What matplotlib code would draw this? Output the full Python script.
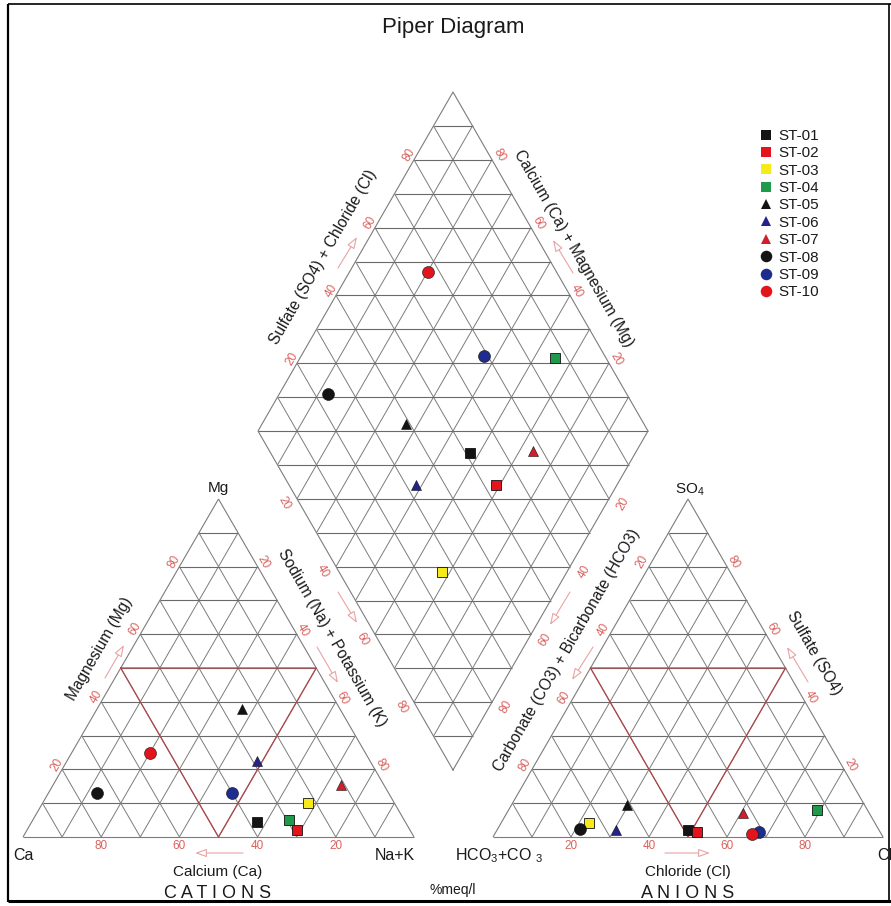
import numpy as np
import matplotlib
matplotlib.use("Agg")
import matplotlib.pyplot as plt
from matplotlib.lines import Line2D

plt.rcParams['font.family'] = ['Liberation Sans', 'DejaVu Sans']
plt.rcParams['mathtext.fontset'] = 'custom'
plt.rcParams['mathtext.rm'] = 'Liberation Sans'
plt.rcParams['mathtext.it'] = 'Liberation Sans'

# ---- sample data (% meq/l) ----
stations = ['ST-01', 'ST-02', 'ST-03', 'ST-04', 'ST-05',
            'ST-06', 'ST-07', 'ST-08', 'ST-09', 'ST-10']
ca = [38, 29, 22, 29.5, 25, 29, 11, 74.5, 40, 55]
mg = [4.5, 2, 10, 5, 38, 22.5, 15.5, 13, 13, 25]
na_k = [57.5, 69, 68, 65.5, 37, 48.5, 73.5, 12.5, 47, 20]
cl = [49, 51.5, 22.5, 79, 29.5, 30.5, 60.5, 21, 67.5, 66]
so4 = [2, 1.5, 4, 8, 9.5, 2, 7, 2.5, 1.5, 1]
hco3_co3 = [49, 47, 73.5, 13, 61, 67.5, 32.5, 76.5, 31, 33]

markers = ['s', 's', 's', 's', '^', '^', '^', 'o', 'o', 'o']
colors = ['#141414', '#e3141c', '#f7ea1a', '#1f9a4a', '#141414',
          '#23238a', '#cf1f2c', '#141414', '#1e2b8f', '#e3141c']
tick_values = [20, 40, 60, 80]

# ---- layout (pixel units) ----
W, H = 891, 906
BASE_Y = 837
TRI_H = 338
CAT_X0, CAT_SIDE = 23, 391
AN_X0, AN_SIDE = 493, 390
DIA_BX, DIA_BY, DIA_HW, DIA_H = 453, 770, 195, 339

GRID = '#7c7c7c'
HGRID = '#6a6a6a'
TICK = '#d9625e'
ARROW = '#e8a4a4'
FACIES = '#b0474a'

fig = plt.figure(figsize=(W / 100, H / 100), dpi=100)
ax = fig.add_axes([0, 0, 1, 1])
ax.set_xlim(0, W)
ax.set_ylim(H, 0)
ax.axis('off')


def tri_pt(x0, side, right, top):
    right = np.asarray(right, float)
    top = np.asarray(top, float)
    return x0 + side * (right + top / 2.0), BASE_Y - TRI_H * top


def dia_pt(a, c):
    a = np.asarray(a, float)
    c = np.asarray(c, float)
    return DIA_BX + DIA_HW * (c - a), DIA_BY - DIA_H * (a + c)


def seg(p, q, **kw):
    ax.plot([p[0], q[0]], [p[1], q[1]], solid_capstyle='butt', **kw)


def draw_triangle(x0, side):
    P = lambda r, t: tri_pt(x0, side, r, t)
    for k in range(1, 10):
        f = k / 10
        seg(P(0, f), P(1 - f, f), color=HGRID, lw=0.8)
        seg(P(f, 0), P(f, 1 - f), color=GRID, lw=0.7)
        seg(P(1 - f, 0), P(0, 1 - f), color=GRID, lw=0.7)
    for p, q in [(P(0, 0), P(1, 0)), (P(1, 0), P(0, 1)), (P(0, 1), P(0, 0))]:
        seg(p, q, color=GRID, lw=0.8)
    # central facies triangle
    tri = [P(0, 0.5), P(0.5, 0.5), P(0.5, 0), P(0, 0.5)]
    ax.plot([p[0] for p in tri], [p[1] for p in tri], color=FACIES, lw=0.9)


def draw_diamond():
    for k in range(1, 10):
        f = k / 10
        seg(dia_pt(f, 0), dia_pt(f, 1), color=GRID, lw=0.7)
        seg(dia_pt(0, f), dia_pt(1, f), color=GRID, lw=0.7)
    for k in range(1, 20):
        s = k / 10
        if s <= 1:
            p, q = dia_pt(s, 0), dia_pt(0, s)
        else:
            p, q = dia_pt(1, s - 1), dia_pt(s - 1, 1)
        seg(p, q, color=HGRID, lw=0.8)
    outline = [dia_pt(0, 0), dia_pt(1, 0), dia_pt(1, 1), dia_pt(0, 1), dia_pt(0, 0)]
    ax.plot([p[0] for p in outline], [p[1] for p in outline], color=GRID, lw=0.8)


draw_triangle(CAT_X0, CAT_SIDE)
draw_triangle(AN_X0, AN_SIDE)
draw_diamond()


# ---- red tick labels ----
def tick(xy, off, rot, v):
    ax.text(xy[0] + off[0], xy[1] + off[1], str(v), color=TICK, fontsize=8.5,
            rotation=rot, ha='center', va='center', rotation_mode='anchor')


for v in tick_values:
    f = v / 100
    # cation triangle
    tick(tri_pt(CAT_X0, CAT_SIDE, 1 - f, 0), (0, 9), 0, v)
    tick(tri_pt(CAT_X0, CAT_SIDE, 0, f), (-5, -5), 60, v)
    tick(tri_pt(CAT_X0, CAT_SIDE, f, 1 - f), (6, -4), -60, v)
    # anion triangle
    tick(tri_pt(AN_X0, AN_SIDE, f, 0), (0, 9), 0, v)
    tick(tri_pt(AN_X0, AN_SIDE, 0, 1 - f), (-6.5, -4.5), 60, v)
    tick(tri_pt(AN_X0, AN_SIDE, 1 - f, f), (6, -4.5), -60, v)
    # diamond
    tick(dia_pt(1, f), (-5, -4.5), 60, v)
    tick(dia_pt(f, 1), (7, -4.5), -60, v)
    tick(dia_pt(1 - f, 0), (-13, 4.5), -60, v)
    tick(dia_pt(0, 1 - f), (14, 5), 60, v)


# ---- axis direction arrows ----
def arrow(tail, head):
    ax.annotate('', xy=head, xytext=tail,
                arrowprops=dict(arrowstyle='-|>,head_length=0.7,head_width=0.25',
                                lw=0.8, ec=ARROW, fc='white',
                                shrinkA=0, shrinkB=0, mutation_scale=10))


arrow((243, 853), (195, 853))
arrow((105, 678), (124, 645))
arrow((317, 647), (338, 683))
arrow((338, 592), (357, 623))
arrow((338, 268), (357, 237))
arrow((573, 273), (553, 240))
arrow((570, 592), (550, 625))
arrow((593, 647), (572, 680))
arrow((808, 682), (787, 647))
arrow((665, 853), (710, 853))

# ---- texts ----
TXT = '#1a1a1a'
ax.text(453, 28, 'Piper Diagram', fontsize=16, ha='center', va='center', color=TXT)
ax.text(218, 488, 'Mg', fontsize=11, ha='center', va='center', color=TXT)
ax.text(690, 490, r'SO$_{\mathregular{4}}$', fontsize=11, ha='center', va='center', color=TXT)
ax.text(23, 855, 'Ca', fontsize=11.5, ha='center', va='center', color=TXT)
ax.text(395, 855, 'Na+K', fontsize=11.5, ha='center', va='center', color=TXT)
ax.text(499, 856, r'HCO$_{\mathregular{3}}$+CO $_{\mathregular{3}}$', fontsize=11.5,
        ha='center', va='center', color=TXT)
ax.text(877, 855, 'Cl', fontsize=11.5, ha='left', va='center', color=TXT)
ax.text(218, 872, 'Calcium (Ca)', fontsize=11, ha='center', va='center', color=TXT)
ax.text(688, 872, 'Chloride (Cl)', fontsize=11, ha='center', va='center', color=TXT)
ax.text(218, 893, 'C A T I O N S', fontsize=13, ha='center', va='center', color=TXT)
ax.text(688, 893, 'A N I O N S', fontsize=13, ha='center', va='center', color=TXT)
ax.text(453, 890, '%meq/l', fontsize=10, ha='center', va='center', color=TXT)

rot_titles = [
    ('Magnesium (Mg)', (100, 649), 60),
    ('Sodium (Na) + Potassium (K)', (332, 638), -60),
    ('Carbonate (CO3) + Bicarbonate (HCO3)', (567, 650), 60),
    ('Sulfate (SO4)', (814, 653), -60),
    ('Sulfate (SO4) + Chloride (Cl)', (323, 257), 60),
    ('Calcium (Ca) + Magnesium (Mg)', (574, 248), -60),
]
for s, (x, y), r in rot_titles:
    ax.text(x, y, s, fontsize=11.2, rotation=r, rotation_mode='anchor',
            ha='center', va='center', color=TXT)

# ---- samples ----
cat = np.array([ca, mg, na_k], float)
cat = cat / cat.sum(axis=0)
an = np.array([cl, so4, hco3_co3], float)
an = an / an.sum(axis=0)

handles = []
for i, name in enumerate(stations):
    m, c = markers[i], colors[i]
    ms = {'s': 7.8, '^': 7.8, 'o': 8.6}[m]
    kw = dict(marker=m, color=c, markersize=ms, markeredgecolor='#111111',
              markeredgewidth=0.6 if m == 's' else 0.4, linestyle='none', zorder=5)
    cx, cy = tri_pt(CAT_X0, CAT_SIDE, cat[2, i], cat[1, i])
    ax.plot([cx], [cy], **kw)
    axx, ayy = tri_pt(AN_X0, AN_SIDE, an[0, i], an[1, i])
    ax.plot([axx], [ayy], **kw)
    dx, dy = dia_pt(cat[0, i] + cat[1, i], an[0, i] + an[1, i])
    ax.plot([dx], [dy], **kw)
    handles.append(Line2D([], [], marker=m, color=c, markersize=ms - 0.3,
                          markeredgewidth=0, linestyle='none', label=name))

leg = ax.legend(handles=handles, loc='upper left', frameon=False,
                bbox_to_anchor=(758 / W, 1 - 129 / H), fontsize=11,
                handlelength=1.0, handletextpad=0.35, labelspacing=0.22,
                borderpad=0, borderaxespad=0)
for t in leg.get_texts():
    t.set_color(TXT)

# ---- frame ----
ax.plot([8, 8], [4, 902], color='black', lw=1.6, solid_capstyle='butt')
ax.plot([8, 891], [4, 4], color='black', lw=1.2, solid_capstyle='butt')
ax.plot([8, 891], [901, 901], color='black', lw=2.2, solid_capstyle='butt')
ax.plot([889, 889], [4, 902], color='black', lw=1.2, solid_capstyle='butt')

fig.savefig('out.png', dpi=100)
